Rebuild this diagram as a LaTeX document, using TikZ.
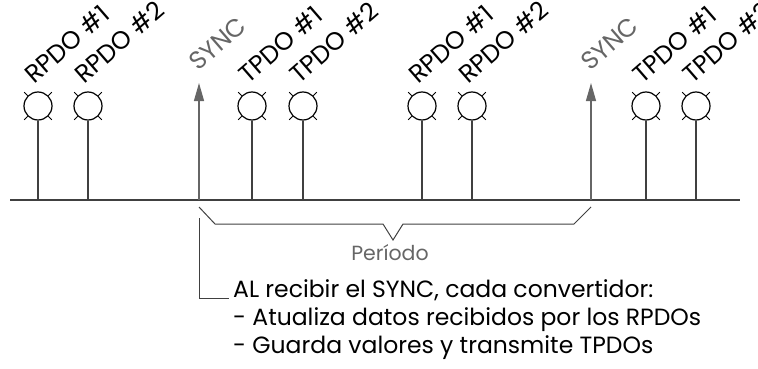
\documentclass[tikz,border=0pt]{standalone}
\usepackage{fontspec}
\setmainfont{Poppins}
\usetikzlibrary{arrows.meta}
\definecolor{linegray}{gray}{0.25}
\definecolor{syncgray}{gray}{0.4}
\begin{document}
\begin{tikzpicture}[x=1pt,y=1pt,
    line/.style={linegray, line width=1.2pt},
    pdo/.style={circle, draw, black, line width=1.2pt, minimum size=28pt, inner sep=0pt},
    pdolabel/.style={rotate=41, anchor=base west, inner sep=0pt, font=\fontsize{25}{28}\selectfont},
    synclabel/.style={pdolabel, text=syncgray},
    note/.style={anchor=base west, inner sep=0pt, font=\fontsize{23.5}{28}\selectfont}]
\useasboundingbox (0,0) rectangle (758,368);
    % Zeitachse:
    \coordinate (axl) at (10,168);
    \coordinate (axr) at (740,168);
    \draw[line] (axl) -- (axr);
    % PDOs mit Lampen:
    \foreach \n/\x/\t in {ra/38/RPDO \#1, rb/88/RPDO \#2, ta/252/TPDO \#1, tb/303/TPDO \#2,
                          rc/422/RPDO \#1, rd/472/RPDO \#2, tc/646/TPDO \#1, td/696/TPDO \#2}{
        \node[pdo] (\n) at (\x,262) {};
        \coordinate (\n foot) at (\x,168);
        \draw[line] (\n) -- (\n foot);
        \foreach \a in {45,135,225,315}
            \draw[black, line width=0.8pt] (\n.\a) -- ++(\a:5);
        \node[pdolabel] (\n text) at (\x-4,283) {\t};
    }
    % SYNC-Pfeile:
    \foreach \n/\x in {sa/199, sb/591}{
        \coordinate (\n foot) at (\x,168);
        \coordinate (\n tip) at (\x,285);
        \draw[syncgray, line width=1.2pt, -{Triangle[length=18pt,width=10pt]}] (\n foot) -- (\n tip);
        \node[synclabel] (\n text) at (\x-1,296) {SYNC};
    }
    % Klammer fuer die Periode:
    \coordinate (ba) at (199,161);
    \coordinate (bb) at (215,144);
    \coordinate (bc) at (383,144);
    \coordinate (bd) at (393,128);
    \coordinate (be) at (403,144);
    \coordinate (bf) at (574,144);
    \coordinate (bg) at (591,161);
    \draw[linegray, line width=1pt] (ba) -- (bb) -- (bc) -- (bd) -- (be) -- (bf) -- (bg);
    \node[text=syncgray, anchor=base, inner sep=0pt, font=\fontsize{20.5}{24}\selectfont] (period) at (390,108) {Período};
    % Hinweis:
    \node[note] (note1) at (233,71) {AL recibir el SYNC, cada convertidor:};
    \node[note] (note2) at (233,43) {- Atualiza datos recibidos por los RPDOs};
    \node[note] (note3) at (233,15) {- Guarda valores y transmite TPDOs};
    \coordinate (nt) at (199,150);
    \coordinate (ne) at (229,70);
    \draw[linegray, line width=1pt] (nt) |- (ne);
\end{tikzpicture}
\end{document}
